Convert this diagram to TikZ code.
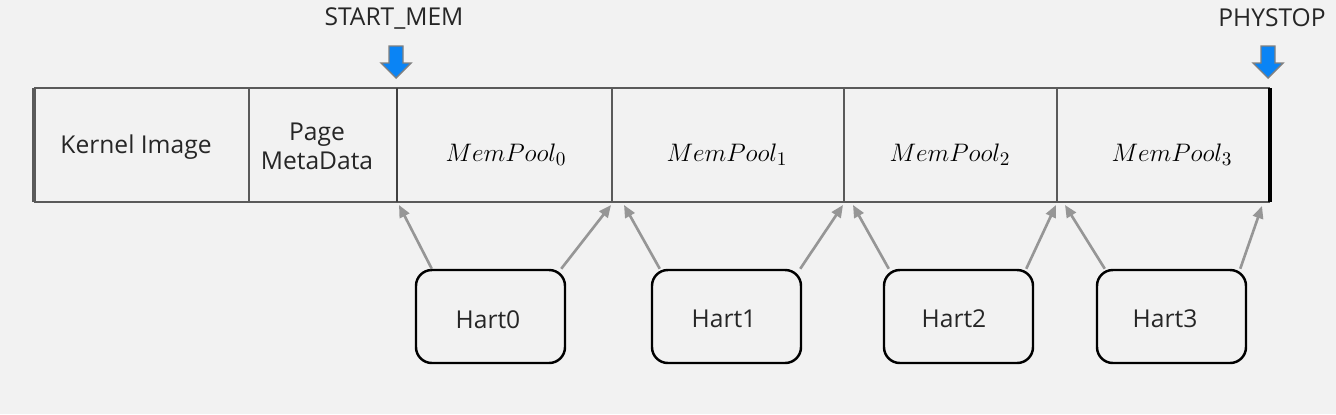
\documentclass[tikz,border=0pt]{standalone}
\usepackage{fontspec}
\setmainfont{Open Sans}
\usetikzlibrary{arrows.meta}
\definecolor{bg}{HTML}{F2F2F2}
\definecolor{barline}{HTML}{5A5A5A}
\definecolor{conn}{HTML}{969696}
\definecolor{bluearrow}{HTML}{0A84F5}
\tikzset{
  lbl/.style={font=\fontsize{14}{16.5}\selectfont, text=black!85, align=center, inner sep=0pt},
  hartbox/.style={draw=black, line width=1.4pt, rounded corners=9pt, minimum width=149*0.02cm, minimum height=93*0.02cm, fill=bg},
  hartlbl/.style={font=\fontsize{14}{16.5}\selectfont, text=black!85, inner sep=0pt},
  link/.style={draw=conn, line width=1.5pt, -{Triangle[length=7pt,width=6pt]}},
  memtxt/.style={font=\fontsize{15.5}{18}\selectfont, inner sep=0pt},
  downarrow/.style={fill=bluearrow, draw=gray, line width=0.8pt}
}
\begin{document}
\begin{tikzpicture}[x=0.02cm, y=-0.02cm]
\fill[bg] (0,0) rectangle (1336,414);
\useasboundingbox (0,0) rectangle (1336,414);
% bar
\draw[barline, line width=1.2pt] (34,88) -- (1270,88);
\draw[barline, line width=1.2pt] (34,202) -- (1270,202);
\draw[barline, line width=2.2pt] (34,88) -- (34,202);
\draw[barline, line width=1pt] (249,88) -- (249,202);
\draw[black!75, line width=1.4pt] (397,88) -- (397,202);
\draw[barline, line width=1pt] (612,88) -- (612,202);
\draw[barline, line width=1pt] (844,88) -- (844,202);
\draw[barline, line width=1pt] (1057,88) -- (1057,202);
\draw[black, line width=2pt] (1270,88) -- (1270,202);
% coordinates for boundaries
\coordinate (b0) at (399,205);
\coordinate (b1a) at (611,205);
\coordinate (b1b) at (624,205);
\coordinate (b2a) at (843,205);
\coordinate (b2b) at (853,205);
\coordinate (b3a) at (1056,205);
\coordinate (b3b) at (1065,205);
\coordinate (b4) at (1262,206);
% labels in bar
\node[lbl] (kernel) at (136,147) {Kernel Image};
\node[lbl] (meta) at (317,146) {Page\\MetaData};
\node[memtxt] (mp0) at (506,155) {$MemPool_0$};
\node[memtxt] (mp1) at (727,155) {$MemPool_1$};
\node[memtxt] (mp2) at (950,155) {$MemPool_2$};
\node[memtxt] (mp3) at (1172,155) {$MemPool_3$};
% top labels
\node[lbl] (startmem) at (394,18) {START\_MEM};
\node[lbl] (phystop) at (1272,18) {PHYSTOP};
% blue arrows
\draw[downarrow] (389,46) -- (403,46) -- (403,63) -- (411,63) -- (396,78) -- (381,63) -- (389,63) -- cycle;
\draw[downarrow] (1261,46) -- (1275,46) -- (1275,63) -- (1283,63) -- (1268,78) -- (1253,63) -- (1261,63) -- cycle;
% harts
\node[hartbox] (h0) at (490.5,316.5) {};
\node[hartlbl] (t0) at (488,320) {Hart0};
\node[hartbox] (h1) at (726.5,316.5) {};
\node[hartlbl] (t1) at (724,319) {Hart1};
\node[hartbox] (h2) at (958.5,316.5) {};
\node[hartlbl] (t2) at (954,319) {Hart2};
\node[hartbox] (h3) at (1171.5,316.5) {};
\node[hartlbl] (t3) at (1165,319) {Hart3};
% connectors
\draw[link] (h0.north west) ++(17,0) coordinate (h0a) (h0a) -- (b0);
\draw[link] (h0.north east) ++(-5,0) coordinate (h0b) (h0b) -- (b1a);
\draw[link] (h1.north west) ++(9,0) coordinate (h1a) (h1a) -- (b1b);
\draw[link] (h1.north east) ++(-2,0) coordinate (h1b) (h1b) -- (b2a);
\draw[link] (h2.north west) ++(6,0) coordinate (h2a) (h2a) -- (b2b);
\draw[link] (h2.north east) ++(-8,0) coordinate (h2b) (h2b) -- (b3a);
\draw[link] (h3.north west) ++(9,0) coordinate (h3a) (h3a) -- (b3b);
\draw[link] (h3.north east) ++(-7,0) coordinate (h3b) (h3b) -- (b4);
\end{tikzpicture}
\end{document}
